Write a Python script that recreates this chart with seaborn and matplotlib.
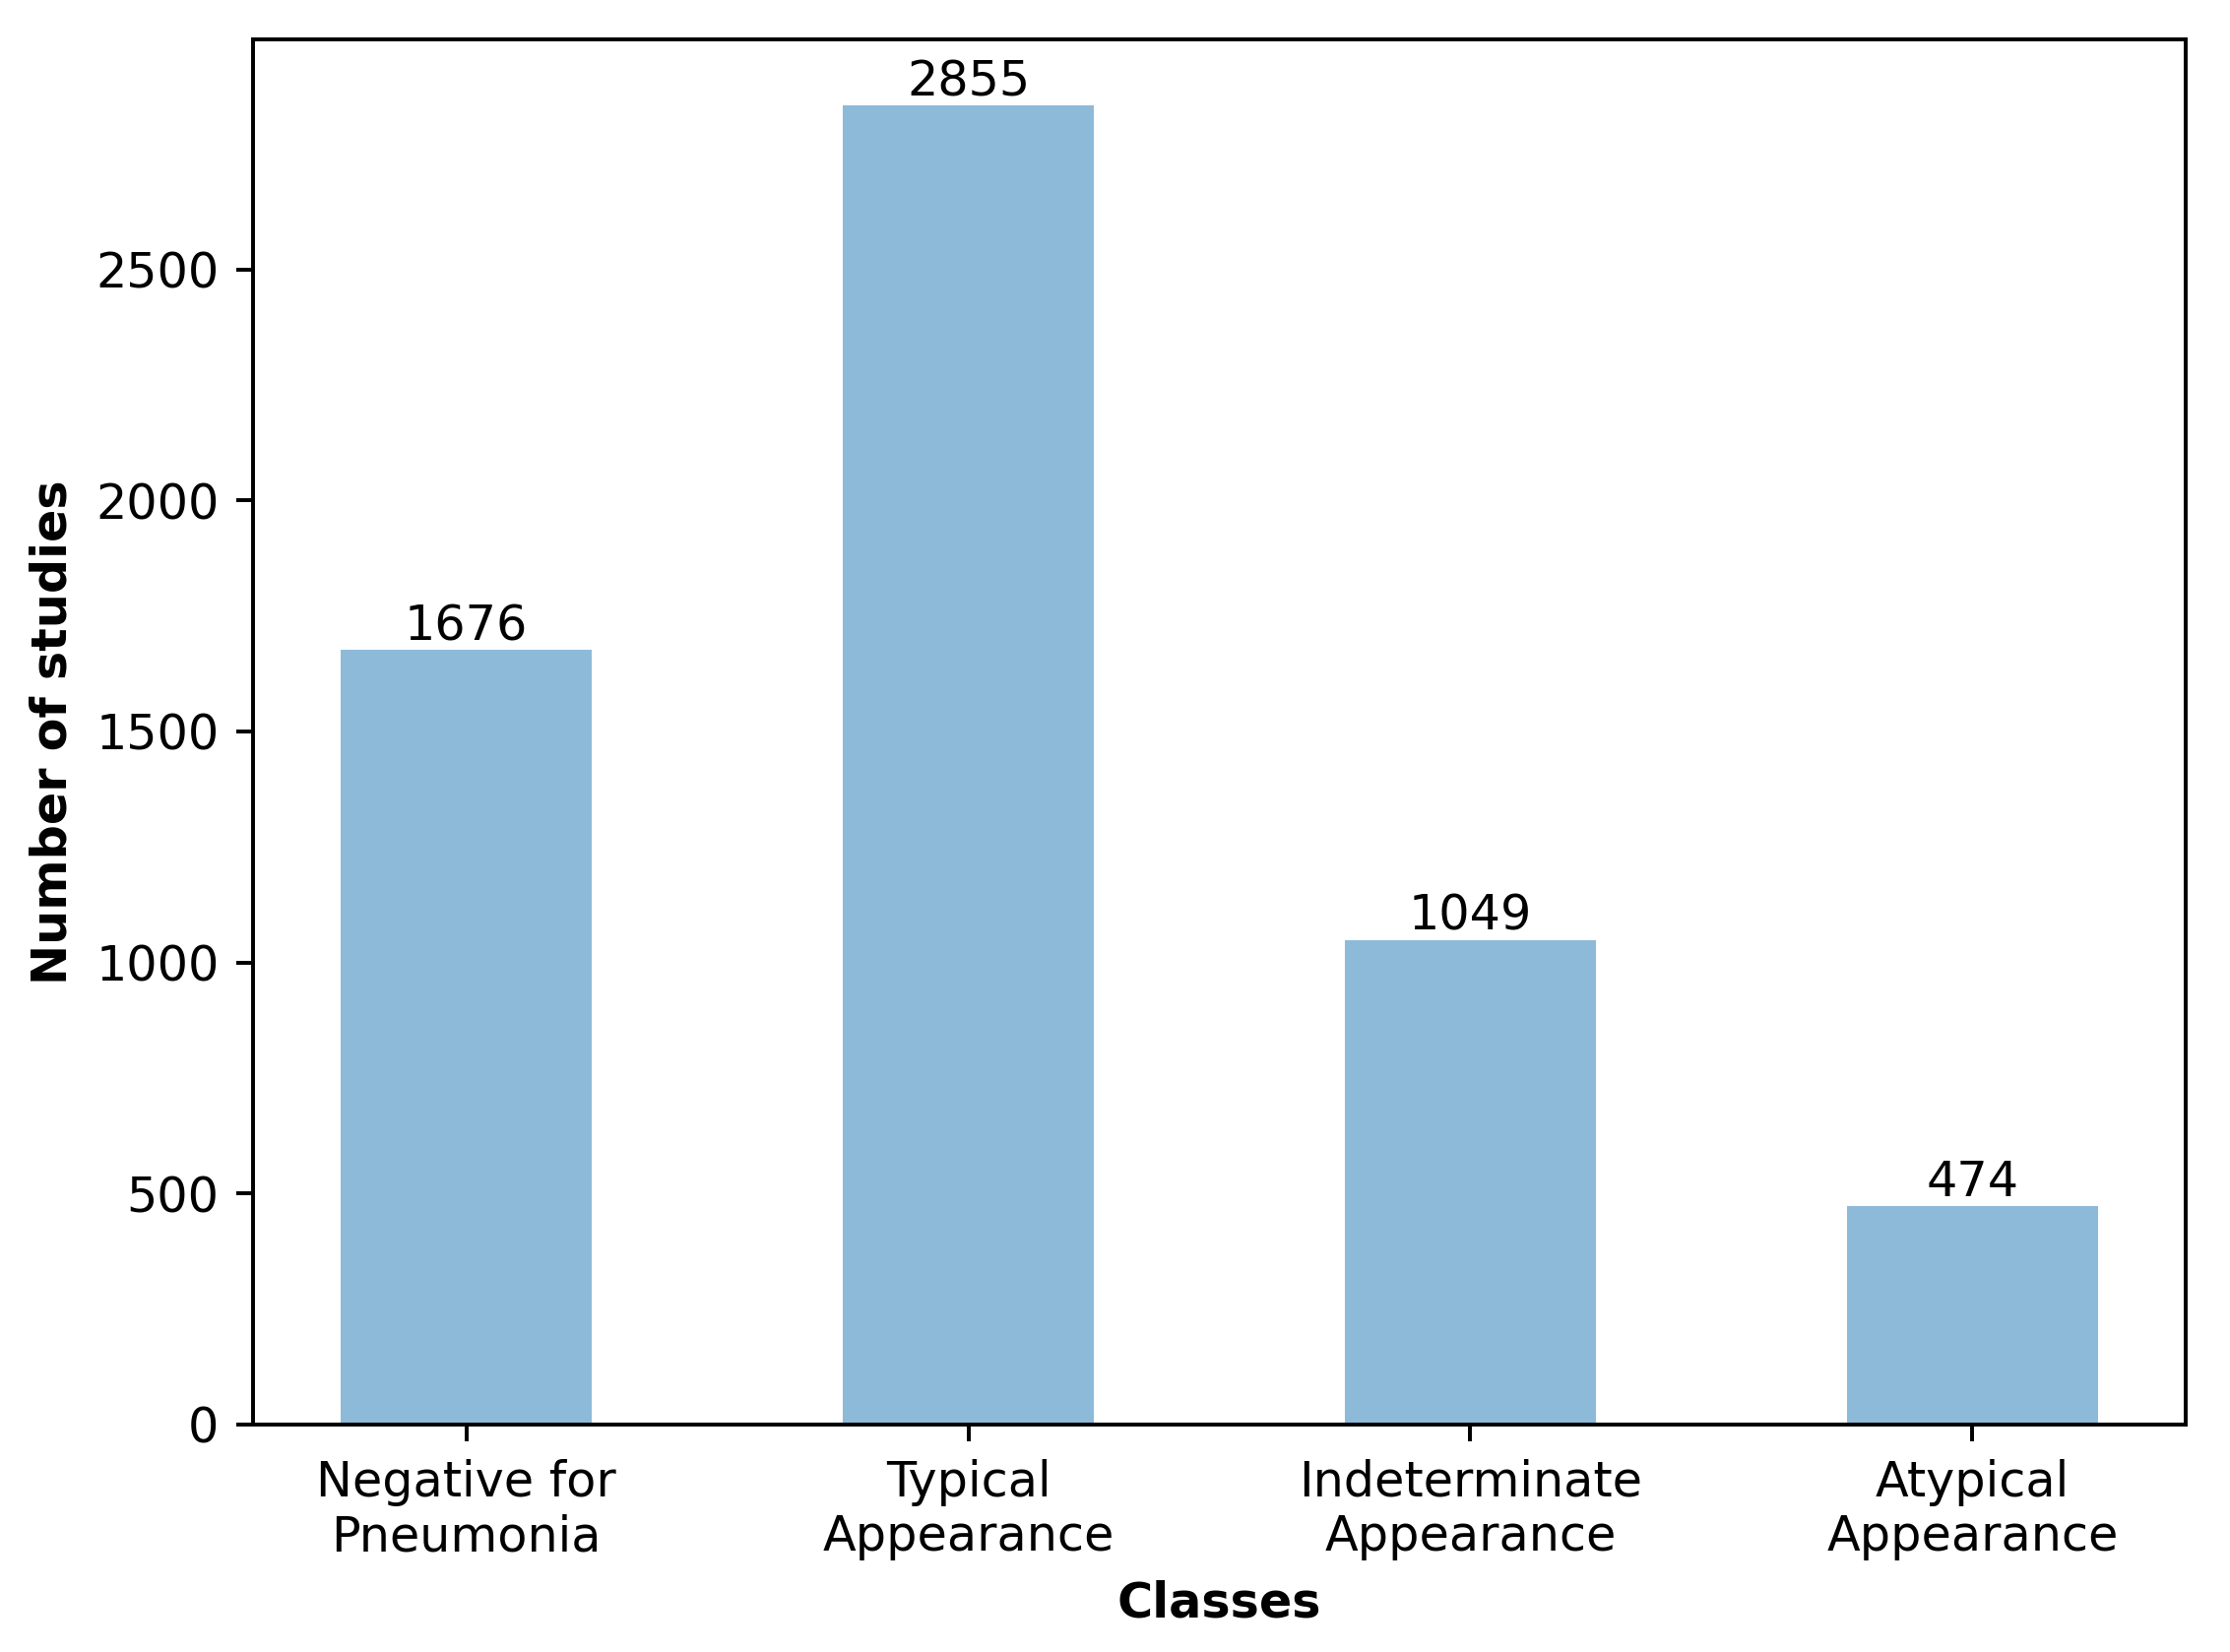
import matplotlib
matplotlib.use("Agg")
import matplotlib.pyplot as plt
import seaborn as sns
import pandas as pd

classes = ["Negative for\nPneumonia", "Typical\nAppearance", "Indeterminate\nAppearance", "Atypical\nAppearance"]
counts = [1676, 2855, 1049, 474]

plt.rcParams['font.family'] = ['DejaVu Sans']

df = pd.DataFrame({"Classes": classes, "Count": counts})

DPI = 355
fig = plt.figure(figsize=(2265/DPI, 1678/DPI), dpi=DPI)
ax = fig.add_axes([257/2265, 1-1447/1678, (2220-257)/2265, (1447-40)/1678])
sns.barplot(data=df, x="Classes", y="Count", color="#1f77b4", alpha=0.5,
            width=0.5, saturation=1, linewidth=0, ax=ax)
ax.set_xlim(-0.425, 3.425)
ax.set_ylim(0, 2855*1.05)
for c in ax.containers:
    ax.bar_label(c, fontsize=10, color="black")
ax.set_xlabel("Classes", fontweight="bold", fontsize=10)
ax.set_ylabel("Number of studies", fontweight="bold", fontsize=10)
ax.tick_params(labelsize=10, colors="black")
fig.savefig("out.png", dpi=DPI)
